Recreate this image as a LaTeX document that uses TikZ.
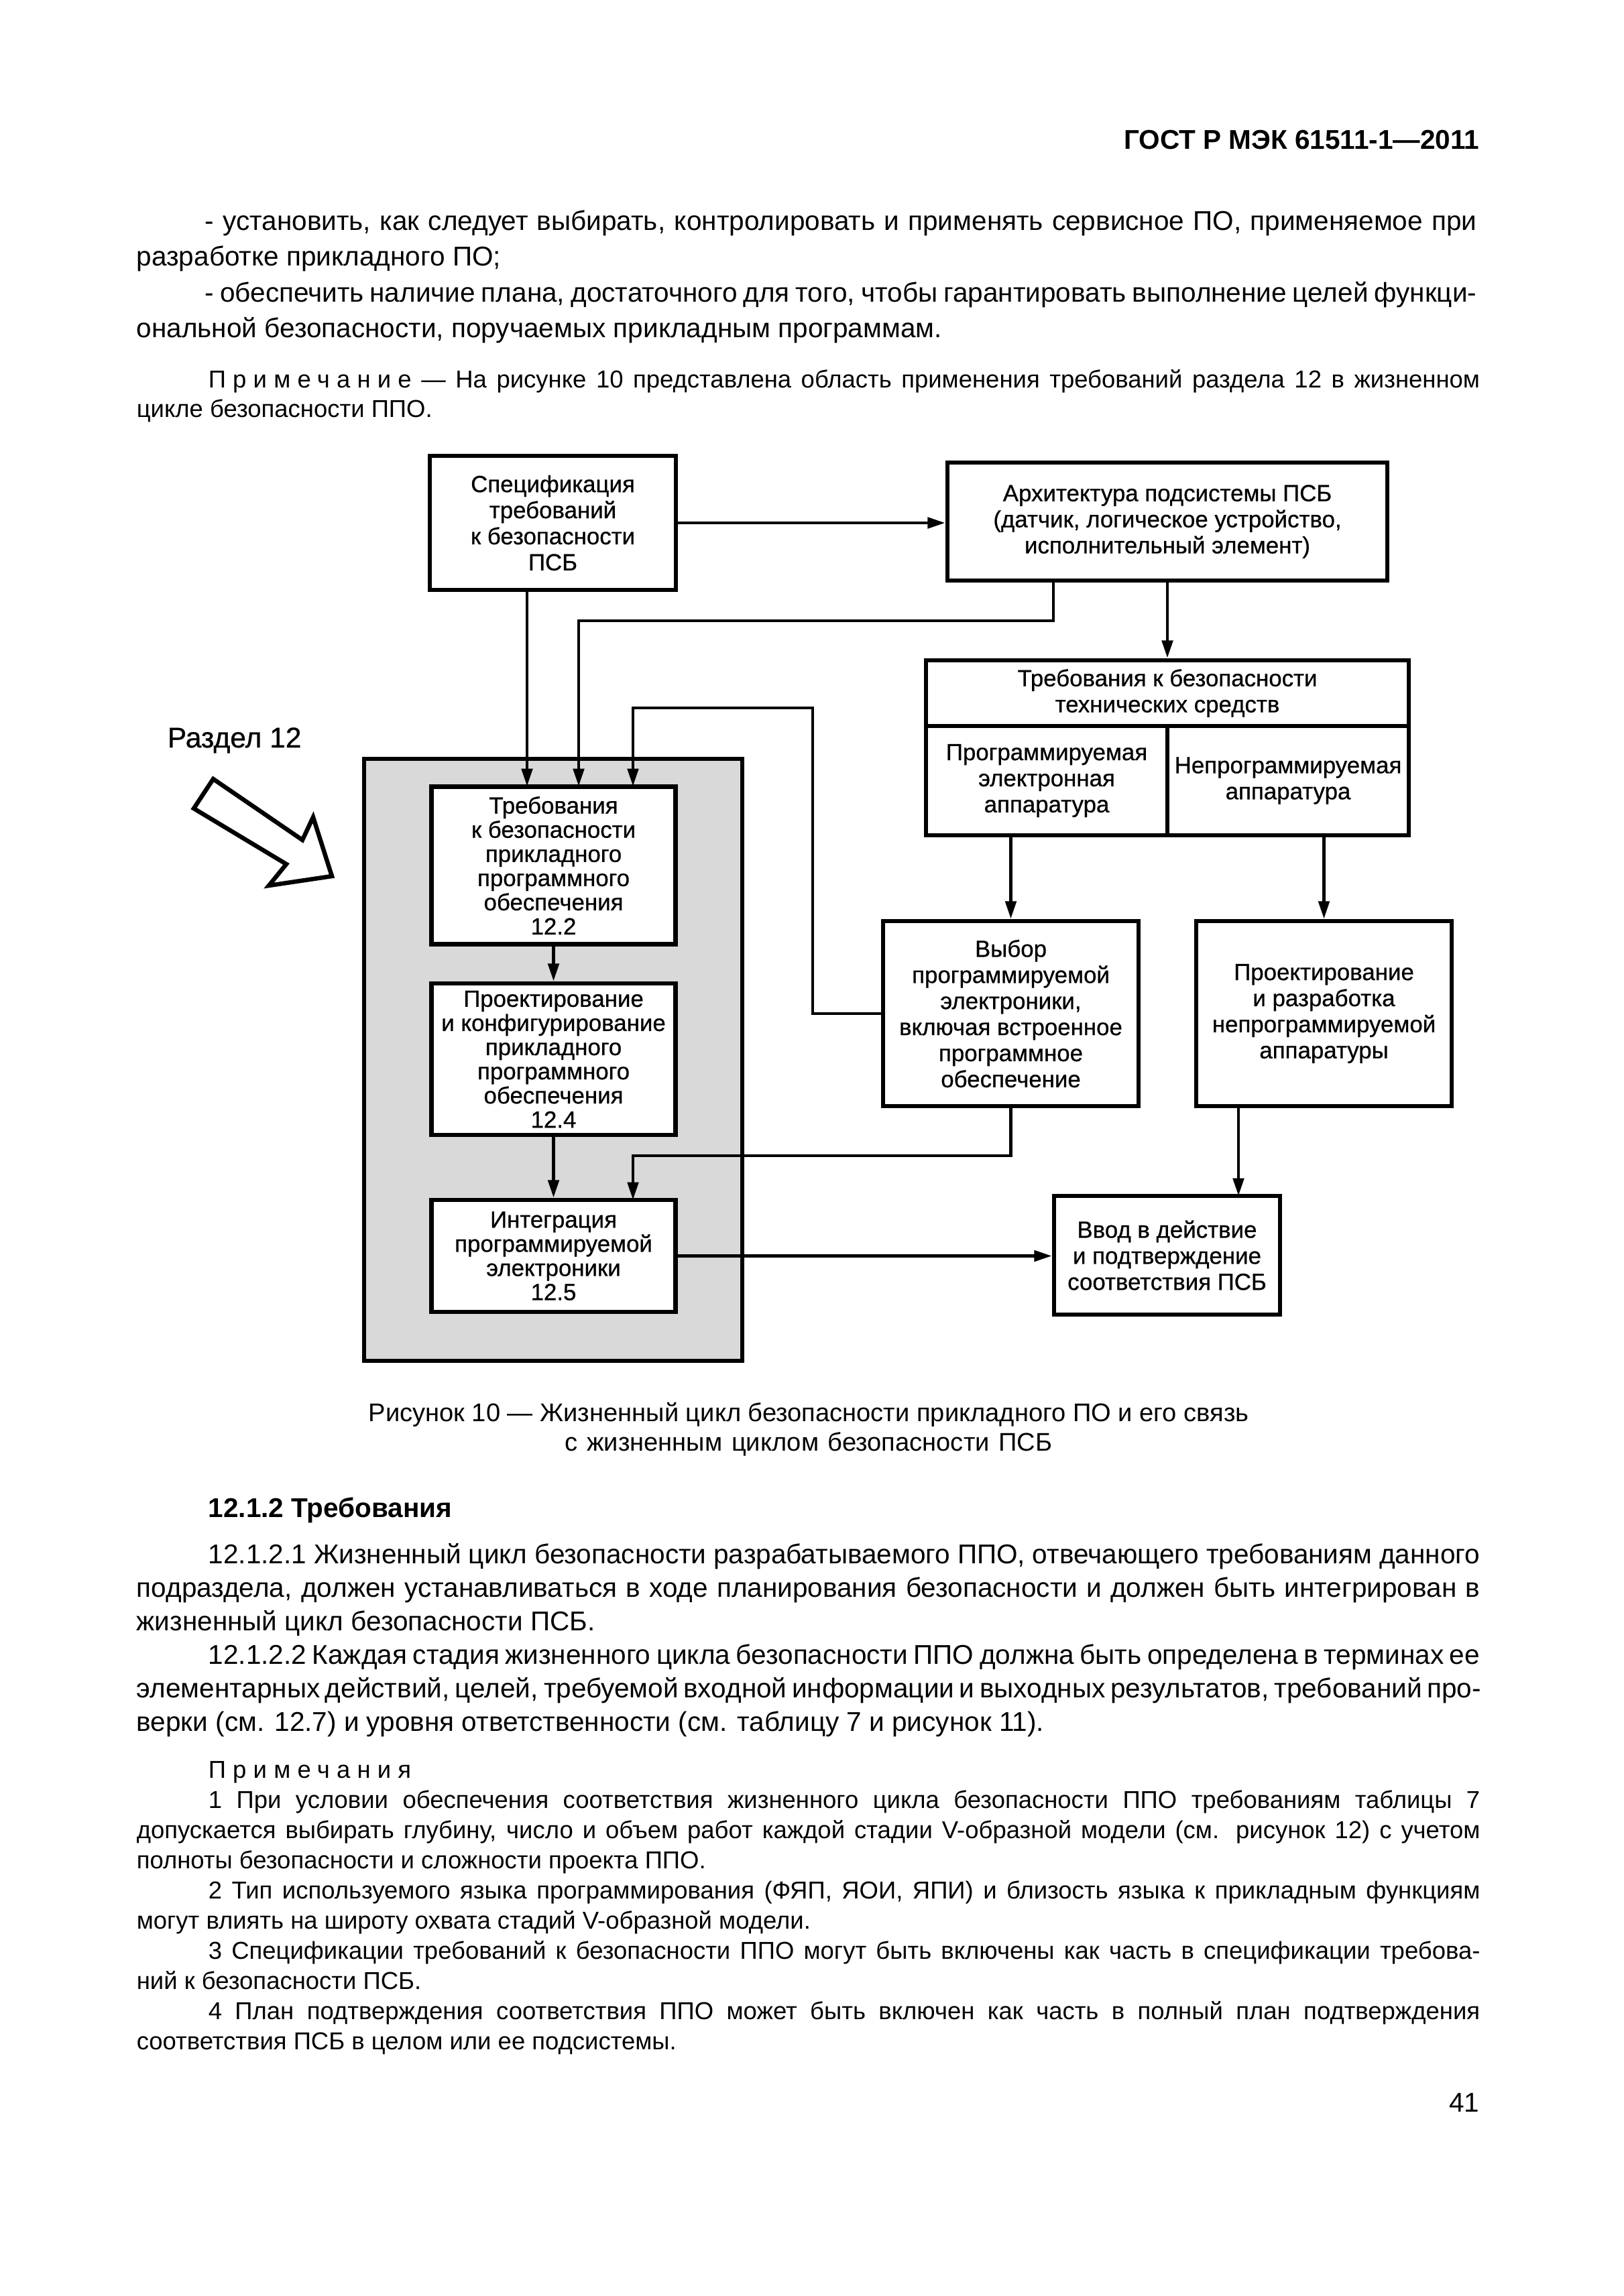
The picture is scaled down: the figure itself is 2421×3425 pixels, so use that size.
\documentclass[tikz,border=0pt]{standalone}
\usepackage{fontspec}
\setmainfont{Liberation Sans}
\newfontfamily\blkfont{Liberation Sans}[FakeBold=0.7]
\usepackage{tikz}
\usetikzlibrary{arrows.meta}
\def\px{0.08674mm}
\newlength\fullw \setlength\fullw{173.8mm}
\newlength\indw \setlength\indw{164.5mm}
\def\jline#1#2{\makebox[#1][s]{#2}}
\newcommand\spaced[1]{{\addfontfeature{LetterSpace=28}#1}}

\tikzset{
	blk/.style={draw, line width=1.6pt, fill=white, inner sep=0pt, align=center, font=\blkfont\fontsize{8.6}{9.6}\selectfont},
	tight/.style={font=\blkfont\fontsize{8.6}{8.9}\selectfont},
	link/.style={line width=1.2pt},
	arr/.style={link, -{Triangle[length=2.3mm, width=1.4mm]}},
	bodytext/.style={anchor=base west, inner sep=0pt, font=\fontsize{10}{12}\selectfont},
	notetext/.style={anchor=base west, inner sep=0pt, font=\fontsize{9}{11}\selectfont},
}

\begin{document}
\begin{tikzpicture}[x=0.08674mm, y=-0.08674mm]
			%%%%% START %%%%%
			
			\fill[white] (0, 0) rectangle (2421, 3425);
			\useasboundingbox (0, 0) rectangle (2421, 3425);
			
			% page text above the figure
			\node[bodytext, anchor=base east, font=\fontsize{10}{12}\selectfont\bfseries] (hdr) at (2207, 222) {ГОСТ Р МЭК 61511-1—2011};
			\node[bodytext] (l1) at (305, 343) {\jline{\indw}{- установить, как следует выбирать, контролировать и применять сервисное ПО, применяемое при}};
			\node[bodytext] (l2) at (203, 396.5) {разработке прикладного ПО;};
			\node[bodytext] (l3) at (305, 450) {\jline{\indw}{- обеспечить наличие плана, достаточного для того, чтобы гарантировать выполнение целей функци-}};
			\node[bodytext] (l4) at (203, 503.5) {ональной безопасности, поручаемых прикладным программам.};
			\node[notetext] (nt1) at (310, 578) {\jline{\indw}{\spaced{Примечание} — На рисунке 10 представлена область применения требований раздела 12 в жизненном}};
			\node[notetext] (nt2) at (203, 622) {цикле безопасности ППО.};
			
			% section 12 frame and the hollow arrow
			\node[draw, line width=1.6pt, fill=gray!30, inner sep=0pt, minimum width=564*\px, minimum height=898*\px] (sect) at (825, 1581) {};
			\node[bodytext, font=\blkfont\fontsize{10.5}{12}\selectfont] (sectlbl) at (249, 1115) {Раздел 12};
			\draw[line width=1.6pt, fill=white, line join=miter] (318, 1162) -- (289, 1206) -- (427, 1289) -- (401, 1321) -- (495, 1307) -- (467, 1219) -- (451, 1253) -- cycle;
			
			% blocks
			\node[blk, minimum width=367*\px, minimum height=200*\px] (spec) at (824.5, 780) {Спецификация\\требований\\к безопасности\\ПСБ};
			\node[blk, minimum width=656*\px, minimum height=176*\px] (arch) at (1741, 778) {Архитектура подсистемы ПСБ\\(датчик, логическое устройство,\\исполнительный элемент)};
			\node[blk, minimum width=720*\px, minimum height=98*\px] (hwtop) at (1741, 1034) {Требования к безопасности\\технических средств};
			\node[blk, minimum width=360*\px, minimum height=163*\px] (hwprog) at (1561, 1164.5) {Программируемая\\электронная\\аппаратура};
			\node[blk, minimum width=360*\px, minimum height=163*\px] (hwnon) at (1921, 1164.5) {Непрограммируемая\\аппаратура};
			\node[blk, tight, minimum width=364*\px, minimum height=235*\px] (req) at (825.5, 1291) {Требования\\к безопасности\\прикладного\\программного\\обеспечения\\12.2};
			\node[blk, tight, minimum width=364*\px, minimum height=226*\px] (design) at (825.5, 1580) {Проектирование\\и конфигурирование\\прикладного\\программного\\обеспечения\\12.4};
			\node[blk, tight, minimum width=364*\px, minimum height=167*\px] (integ) at (825.5, 1873.5) {Интеграция\\программируемой\\электроники\\12.5};
			\node[blk, minimum width=381*\px, minimum height=276*\px] (sel) at (1507.5, 1512) {Выбор\\программируемой\\электроники,\\включая встроенное\\программное\\обеспечение};
			\node[blk, minimum width=381*\px, minimum height=276*\px] (nonprog) at (1974.5, 1512) {Проектирование\\и разработка\\непрограммируемой\\аппаратуры};
			\node[blk, minimum width=337*\px, minimum height=177*\px] (comm) at (1740.5, 1872.5) {Ввод в действие\\и подтверждение\\соответствия ПСБ};
			
			% entry points and bends
			\coordinate (inA) at (786, 1173);
			\coordinate (inB) at (863, 1173);
			\coordinate (inC) at (944, 1173);
			\coordinate (inD) at (944, 1790);
			\coordinate (archL) at (1571, 926);
			\coordinate (selL) at (1212, 1056);
			\coordinate (selD) at (1507.5, 1724);
			\coordinate (commT) at (1847, 1784);
			
			% connectors
			\draw[arr] (spec.east) -- (spec.east -| arch.west);
			\draw[arr] (spec.south -| inA) -- (inA);
			\draw[arr] (arch.south -| archL) -- (archL) -| (inB);
			\draw[arr] (sel.west) -| (selL) -| (inC);
			\draw[arr] (arch.south) -- (hwtop.north);
			\draw[arr] (sel.north |- hwprog.south) -- (sel.north);
			\draw[arr] (nonprog.north |- hwnon.south) -- (nonprog.north);
			\draw[arr] (req.south) -- (design.north);
			\draw[arr] (design.south) -- (integ.north);
			\draw[arr] (sel.south) -- (selD) -| (inD);
			\draw[arr] (nonprog.south -| commT) -- (commT);
			\draw[arr] (integ.east) -- (integ.east -| comm.west);
			
			% caption and text below the figure
			\node[bodytext, anchor=base, font=\fontsize{9.4}{12}\selectfont] (cap1) at (1206, 2120) {Рисунок 10 — Жизненный цикл безопасности прикладного ПО и его связь};
			\node[bodytext, anchor=base, font=\fontsize{9.4}{12}\selectfont] (cap2) at (1206, 2164) {\jline{63mm}{с жизненным циклом безопасности ПСБ}};
			\node[bodytext, font=\fontsize{10}{12}\selectfont\bfseries] (sub) at (310, 2263) {12.1.2 Требования};
			\node[bodytext] (p1a) at (310, 2332) {\jline{\indw}{12.1.2.1 Жизненный цикл безопасности разрабатываемого ППО, отвечающего требованиям данного}};
			\node[bodytext] (p1b) at (203, 2382) {\jline{\fullw}{подраздела, должен устанавливаться в ходе планирования безопасности и должен быть интегрирован в}};
			\node[bodytext] (p1c) at (203, 2432) {жизненный цикл безопасности ПСБ.};
			\node[bodytext] (p2a) at (310, 2482) {\jline{\indw}{12.1.2.2 Каждая стадия жизненного цикла безопасности ППО должна быть определена в терминах ее}};
			\node[bodytext] (p2b) at (203, 2532) {\jline{\fullw}{элементарных действий, целей, требуемой входной информации и выходных результатов, требований про-}};
			\node[bodytext] (p2c) at (203, 2582) {верки (см. 12.7) и уровня ответственности (см. таблицу 7 и рисунок 11).};
			\node[notetext] (nh) at (310, 2652) {\spaced{Примечания}};
			\node[notetext] (n1a) at (310, 2697) {\jline{\indw}{1 При условии обеспечения соответствия жизненного цикла безопасности ППО требованиям таблицы 7}};
			\node[notetext] (n1b) at (203, 2742) {\jline{\fullw}{допускается выбирать глубину, число и объем работ каждой стадии V-образной модели (см. рисунок 12) с учетом}};
			\node[notetext] (n1c) at (203, 2787) {полноты безопасности и сложности проекта ППО.};
			\node[notetext] (n2a) at (310, 2832) {\jline{\indw}{2 Тип используемого языка программирования (ФЯП, ЯОИ, ЯПИ) и близость языка к прикладным функциям}};
			\node[notetext] (n2b) at (203, 2877) {могут влиять на широту охвата стадий V-образной модели.};
			\node[notetext] (n3a) at (310, 2922) {\jline{\indw}{3 Спецификации требований к безопасности ППО могут быть включены как часть в спецификации требова-}};
			\node[notetext] (n3b) at (203, 2967) {ний к безопасности ПСБ.};
			\node[notetext] (n4a) at (310, 3012) {\jline{\indw}{4 План подтверждения соответствия ППО может быть включен как часть в полный план подтверждения}};
			\node[notetext] (n4b) at (203, 3057) {соответствия ПСБ в целом или ее подсистемы.};
			\node[bodytext, anchor=base east] (pg) at (2207, 3150) {41};
			
			%%%%% END %%%%%
\end{tikzpicture}
\end{document}
